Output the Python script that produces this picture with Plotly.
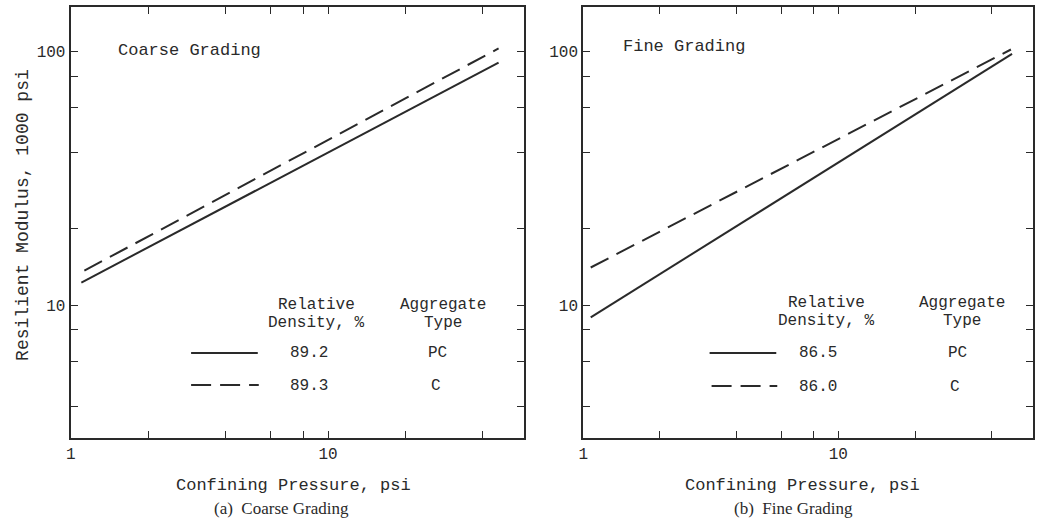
import plotly.graph_objects as go
import math

# ---- data ----
coarse_pc_x = [1.1, 46]
coarse_pc_y = [12.3, 90.5]
coarse_c_x = [1.13, 46]
coarse_c_y = [13.7, 103]

fine_pc_x = [1.07, 48]
fine_pc_y = [8.97, 98]
fine_c_x = [1.07, 47.5]
fine_c_y = [14.1, 102]

x_tickvals = [1, 2, 4, 6, 8, 10, 20, 40]
x_ticktext = ["1", "", "", "", "", "10", "", ""]
y_tickvals = [4, 6, 8, 10, 20, 40, 60, 80, 100]
y_ticktext = ["", "", "", "10", "", "", "", "", "100"]

coarse_density = ["89.2", "89.3"]
coarse_type = ["PC", "C"]
fine_density = ["86.5", "86.0"]
fine_type = ["PC", "C"]

W, H = 1040, 521
MONO = "Liberation Mono"
SERIF = "Liberation Serif"
INK = "#2a2a2a"


def px(x):
    return x / W


def py(y):
    return (H - y) / H


fig = go.Figure()

line_solid = dict(color=INK, width=2)
line_dash = dict(color=INK, width=2, dash="20px,9px")

fig.add_trace(go.Scatter(x=coarse_pc_x, y=coarse_pc_y, mode="lines", line=line_solid,
                         xaxis="x", yaxis="y", showlegend=False))
fig.add_trace(go.Scatter(x=coarse_c_x, y=coarse_c_y, mode="lines", line=line_dash,
                         xaxis="x", yaxis="y", showlegend=False))
fig.add_trace(go.Scatter(x=fine_pc_x, y=fine_pc_y, mode="lines", line=line_solid,
                         xaxis="x2", yaxis="y2", showlegend=False))
fig.add_trace(go.Scatter(x=fine_c_x, y=fine_c_y, mode="lines", line=line_dash,
                         xaxis="x2", yaxis="y2", showlegend=False))

ydom = [py(438), py(7)]
xrange_ = [0, math.log10(58)]
yrange_ = [math.log10(3), math.log10(150)]

axis_common = dict(
    type="log", showgrid=False, zeroline=False, showline=True, mirror="allticks",
    linecolor=INK, linewidth=2, ticks="inside", ticklen=7, tickwidth=1.2,
    tickcolor=INK, tickfont=dict(family=MONO, size=16, color=INK),
)

fig.update_layout(
    width=W, height=H, autosize=False,
    margin=dict(l=0, r=0, t=0, b=0),
    plot_bgcolor="white", paper_bgcolor="white",
    xaxis=dict(domain=[px(66), px(522)], range=xrange_, tickmode="array",
               tickvals=x_tickvals, ticktext=x_ticktext, anchor="y", **axis_common),
    yaxis=dict(domain=ydom, range=yrange_, tickmode="array",
               tickvals=y_tickvals, ticktext=y_ticktext, anchor="x", **axis_common),
    xaxis2=dict(domain=[px(581), px(1033)], range=xrange_, tickmode="array",
                tickvals=x_tickvals, ticktext=x_ticktext, anchor="y2", **axis_common),
    yaxis2=dict(domain=ydom, range=yrange_, tickmode="array",
                tickvals=y_tickvals, ticktext=y_ticktext, anchor="x2", **axis_common),
)

ann = []


def text(x, y, s, size=16, family=MONO, xanchor="center", textangle=0):
    ann.append(dict(x=px(x), y=py(y), xref="paper", yref="paper", text=s,
                    showarrow=False, xanchor=xanchor, yanchor="middle",
                    textangle=textangle,
                    font=dict(family=family, size=size, color=INK)))


# panel titles
text(112, 50, "Coarse Grading", size=17, xanchor="left")
text(619, 46, "Fine Grading", size=17, xanchor="left")

# axis titles
text(290, 485, "Confining Pressure, psi", size=17)
text(801, 485, "Confining Pressure, psi", size=17)
text(278, 508, "(a)  Coarse Grading", size=17, family=SERIF)
text(792, 508, "(b)  Fine Grading", size=17, family=SERIF)
text(18, 215, "Resilient Modulus, 1000 psi", size=18, textangle=-90)

# legend texts - left
text(313, 305, "Relative")
text(313, 323, "Density, %")
text(440, 305, "Aggregate")
text(440, 323, "Type")
text(305, 353, coarse_density[0])
text(435, 353, coarse_type[0])
text(305, 386, coarse_density[1])
text(433, 386, coarse_type[1])

# legend texts - right
text(825, 303, "Relative")
text(825, 321, "Density, %")
text(962, 303, "Aggregate")
text(962, 321, "Type")
text(817, 353, fine_density[0])
text(957, 353, fine_type[0])
text(817, 387, fine_density[1])
text(955, 387, fine_type[1])

fig.update_layout(annotations=ann)

# legend line samples
shapes = []
for (x0, x1, y, dash) in [(187, 254, 353, None), (187, 255, 385, "20px,9px"),
                          (708, 775, 353, None), (710, 776, 386, "20px,9px")]:
    ln = dict(color=INK, width=2)
    if dash:
        ln["dash"] = dash
    shapes.append(dict(type="line", xref="paper", yref="paper",
                       x0=px(x0), x1=px(x1), y0=py(y), y1=py(y), line=ln))
fig.update_layout(shapes=shapes)

fig.write_html(
    "out.html",
    config={"responsive": False, "displayModeBar": False},
    post_script="document.body.style.margin='0';document.body.style.padding='0';"
                "document.body.style.overflow='hidden';",
)
